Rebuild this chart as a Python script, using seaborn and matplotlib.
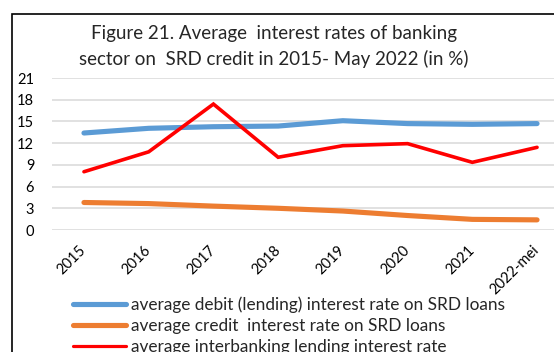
import matplotlib
matplotlib.use("Agg")
import matplotlib.pyplot as plt
from matplotlib.lines import Line2D
from matplotlib.patches import Rectangle
import pandas as pd
import seaborn as sns

# Categories (x axis)
years = ["2015", "2016", "2017", "2018", "2019", "2020", "2021", "2022-mei"]

# Series values (in %)
debit_rate = [13.4, 14.05, 14.27, 14.36, 15.1, 14.7, 14.6, 14.7]
credit_rate = [3.8, 3.65, 3.3, 3.0, 2.62, 2.0, 1.47, 1.4]
interbank_rate = [8.05, 10.8, 17.4, 10.05, 11.65, 11.93, 9.35, 11.42]

series_names = [
    "average debit (lending) interest rate on SRD loans",
    "average credit  interest rate on SRD loans",
    "average interbanking lending interest rate",
]
series_values = [debit_rate, credit_rate, interbank_rate]
series_colors = ["#5B9BD5", "#ED7D31", "#FF0000"]
series_widths = [3.7, 3.7, 2.6]

y_ticks = [0, 3, 6, 9, 12, 15, 18, 21]

title_lines = [
    "Figure 21. Average  interest rates of banking",
    "sector on  SRD credit in 2015- May 2022 (in %)",
]

sns.set_theme(style="white")
plt.rcParams["font.family"] = ["Lato", "DejaVu Sans"]

W, H = 554, 352
fig = plt.figure(figsize=(W / 100, H / 100), dpi=100)

# Plot area in pixel units (the right part runs past the figure edge)
left_px, right_px = 51.6, 569.4
top_px, bottom_px = 78.0, 230.0
ax = fig.add_axes([left_px / W, 1 - bottom_px / H,
                   (right_px - left_px) / W, (bottom_px - top_px) / H])

for name, vals, col, lw in zip(series_names, series_values, series_colors, series_widths):
    df = pd.DataFrame({"year": years, "rate": vals})
    sns.lineplot(data=df, x="year", y="rate", ax=ax, color=col, linewidth=lw,
                 solid_capstyle="round", solid_joinstyle="miter", sort=False)

ax.set_xlim(-0.5, len(years) - 0.5)
ax.set_ylim(0, 21)
ax.set_yticks(y_ticks)
ax.set_yticklabels([str(t) for t in y_ticks])
ax.set_xlabel("")
ax.set_ylabel("")
ax.yaxis.grid(True, color="#D9D9D9", linewidth=1.1)
ax.xaxis.grid(False)
ax.set_axisbelow(True)
for s in ax.spines.values():
    s.set_visible(False)

ax.tick_params(axis="y", length=0, pad=12.5, labelsize=10.5, labelcolor="#000000")
ax.tick_params(axis="x", length=0, pad=13, labelsize=10.5, labelcolor="#000000")
for lab in ax.get_xticklabels():
    lab.set_rotation(45)
    lab.set_ha("right")
    lab.set_va("center")
    lab.set_rotation_mode("anchor")

# Title
fig.text(274 / W, 1 - 33 / H, title_lines[0], ha="center", va="center", fontsize=13.5)
fig.text(274 / W, 1 - 59 / H, title_lines[1], ha="center", va="center", fontsize=13.5)

# Legend
legend_widths = [3.7, 3.7, 2.3]
handles = [Line2D([0], [0], color=c, linewidth=lw, solid_capstyle="round")
           for c, lw in zip(series_colors, legend_widths)]
fig.legend(handles, series_names, loc="upper left",
           bbox_to_anchor=(73 / W, 1 - 296 / H), frameon=False,
           fontsize=12.4, handlelength=3.05, handletextpad=0.3,
           labelspacing=0.3, borderpad=0, borderaxespad=0)

# Outer chart border
fig.add_artist(Rectangle((11.5 / W, 1 - 400 / H), (700 - 11.5) / W, (400 - 13.5) / H,
                         transform=fig.transFigure, fill=False,
                         edgecolor="black", linewidth=1.2, clip_on=False))

fig.savefig("out.png", dpi=100)
